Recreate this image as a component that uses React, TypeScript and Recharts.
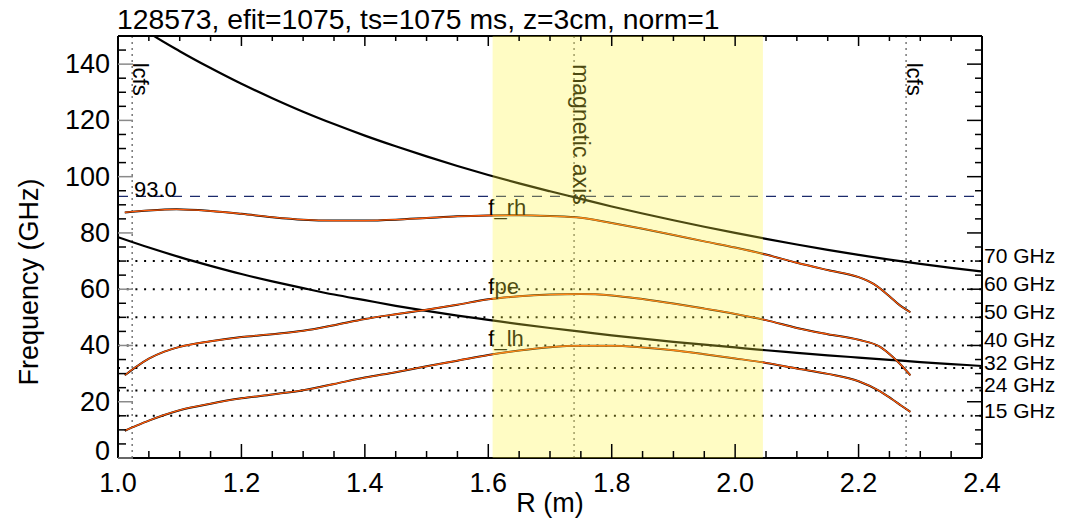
import {
  Line,
  LineChart,
  ReferenceArea,
  ReferenceDot,
  ReferenceLine,
  XAxis,
  YAxis,
} from "recharts";

const FONT = '"Liberation Sans", Arial, Helvetica, sans-serif';

// cyclotron curves on a 0.05 m grid
const R_CYC = [
  1.0, 1.05, 1.1, 1.15, 1.2, 1.25, 1.3, 1.35, 1.4, 1.45, 1.5, 1.55, 1.6, 1.65, 1.7,
  1.75, 1.8, 1.85, 1.9, 1.95, 2.0, 2.05, 2.1, 2.15, 2.2, 2.25, 2.3, 2.35, 2.4,
];
const F_CE = [
  159.5, 151.2, 144.6, 138.6, 133.0, 127.9, 123.1, 118.7, 114.6, 110.8, 107.2, 103.8, 100.6,
  97.6, 94.8, 92.1, 89.4, 86.9, 84.5, 82.2, 80.0, 77.9, 75.9, 74.0, 72.2, 70.5, 69.0, 67.6,
  66.3,
];
const F_CE_HALF = [
  78.5, 74.8, 71.4, 68.3, 65.4, 62.8, 60.4, 58.1, 56.1, 54.1, 52.3, 50.6, 49.1, 47.6, 46.2,
  44.9, 43.6, 42.4, 41.3, 40.3, 39.3, 38.3, 37.4, 36.5, 35.7, 34.9, 34.1, 33.4, 32.7,
];

// right-hand cutoff
const R_RH = [
  1.011, 1.05, 1.095, 1.15, 1.2, 1.25, 1.3, 1.35, 1.4, 1.45, 1.5, 1.55, 1.6, 1.65, 1.7, 1.75,
  1.8, 1.85, 1.9, 1.95, 2.0, 2.05, 2.1, 2.15, 2.2, 2.225, 2.25, 2.265, 2.284,
];
const F_RH = [
  87.3, 88.0, 88.4, 87.8, 86.8, 85.6, 84.7, 84.4, 84.4, 84.7, 85.3, 85.9, 86.2, 86.3, 86.0,
  85.4, 83.5, 81.5, 79.3, 77.0, 74.8, 72.3, 69.4, 66.8, 64.3, 61.8, 57.5, 54.6, 51.8,
];

// plasma frequency
const R_PE = [
  1.011, 1.03, 1.05, 1.075, 1.1, 1.15, 1.2, 1.25, 1.3, 1.35, 1.4, 1.45, 1.5, 1.55, 1.6, 1.65,
  1.7, 1.75, 1.8, 1.85, 1.9, 1.95, 2.0, 2.05, 2.1, 2.15, 2.2, 2.235, 2.255, 2.27, 2.284,
];
const F_PE = [
  29.4, 32.5, 35.3, 37.8, 39.5, 41.5, 43.0, 44.0, 45.2, 47.2, 49.4, 51.1, 52.7, 54.5, 56.4,
  57.5, 58.1, 58.3, 57.8, 56.5, 54.9, 53.1, 51.2, 49.0, 46.2, 44.0, 42.0, 39.5, 36.0, 32.8,
  29.4,
];

// lower hybrid
const R_LH = R_PE;
const F_LH = [
  9.7, 11.5, 13.3, 15.3, 17.0, 19.3, 21.2, 22.6, 24.1, 26.3, 28.6, 30.5, 32.6, 34.6, 36.6,
  38.2, 39.4, 39.9, 39.9, 39.3, 38.3, 36.9, 35.4, 33.8, 31.8, 29.9, 27.3, 23.7, 20.8, 18.5,
  16.4,
];

const PROBE_GHZ = [70, 60, 50, 40, 32, 24, 15];
const CUTOFF_GHZ = 93.0;
const LCFS_R = [1.023, 2.277];
const MAG_AXIS_R = 1.739;
const BAND_R = [1.607, 2.045];

const X_TICKS = [
  1.0, 1.05, 1.1, 1.15, 1.2, 1.25, 1.3, 1.35, 1.4, 1.45, 1.5, 1.55, 1.6, 1.65, 1.7, 1.75, 1.8,
  1.85, 1.9, 1.95, 2.0, 2.05, 2.1, 2.15, 2.2, 2.25, 2.3, 2.35, 2.4,
];
const Y_TICKS = [
  0, 5, 10, 15, 20, 25, 30, 35, 40, 45, 50, 55, 60, 65, 70, 75, 80, 85, 90, 95, 100, 105, 110,
  115, 120, 125, 130, 135, 140, 145, 150,
];

const zip = (rs: number[], fs: number[]) => rs.map((r, i) => ({ r, f: fs[i] }));
const CE_DATA = zip(R_CYC, F_CE);
const CE_HALF_DATA = zip(R_CYC, F_CE_HALF);
const RH_DATA = zip(R_RH, F_RH);
const PE_DATA = zip(R_PE, F_PE);
const LH_DATA = zip(R_LH, F_LH);

const isMajorX = (v: number) => Math.abs(v * 5 - Math.round(v * 5)) < 1e-6;
const isMajorY = (v: number) => v % 20 === 0 && v < 150;

const BottomTick = ({ x, y, payload }: any) => {
  const major = isMajorX(payload.value);
  return (
    <g>
      <line x1={x} x2={x} y1={y} y2={y - (major ? 14 : 7)} stroke="#000" strokeWidth={1.5} />
      {major && (
        <text x={x} y={y + 34} textAnchor="middle" fontSize={27} fontFamily={FONT} fill="#000">
          {payload.value.toFixed(1)}
        </text>
      )}
    </g>
  );
};

const TopTick = ({ x, y, payload }: any) => {
  const major = isMajorX(payload.value);
  return <line x1={x} x2={x} y1={y} y2={y + (major ? 10 : 5)} stroke="#000" strokeWidth={1.5} />;
};

const LeftTick = ({ x, y, payload }: any) => {
  const major = isMajorY(payload.value);
  // the zero label sits a little higher, clear of the 1.0 label
  const dy = payload.value === 0 ? 2 : 9;
  return (
    <g>
      <line
        x1={x}
        x2={x + (major ? 15 : 8)}
        y1={y}
        y2={y}
        stroke={major ? "#8a8a8a" : "#000"}
        strokeWidth={1.5}
      />
      {major && (
        <text x={x - 8} y={y + dy} textAnchor="end" fontSize={27} fontFamily={FONT} fill="#000">
          {payload.value}
        </text>
      )}
    </g>
  );
};

const RightTick = ({ x, y, payload }: any) => {
  const major = isMajorY(payload.value);
  return <line x1={x} x2={x - (major ? 15 : 7)} y1={y} y2={y} stroke="#000" strokeWidth={1.5} />;
};

const textShape =
  (label: string, dx: number, dy: number, size: number, fill = "#000", rotate = false) =>
  (p: any) =>
    rotate ? (
      <text
        transform={`translate(${p.cx + dx},${p.cy + dy}) rotate(90)`}
        fontSize={size}
        fontFamily={FONT}
        fill={fill}
      >
        {label}
      </text>
    ) : (
      <text x={p.cx + dx} y={p.cy + dy} fontSize={size} fontFamily={FONT} fill={fill}>
        {label}
      </text>
    );

export default function App() {
  return (
    <div style={{ position: "absolute", left: 0, top: 0, width: 1075, height: 518, background: "#fff" }}>
      <LineChart
        width={1075}
        height={518}
        margin={{ top: 35, right: 92, bottom: 59, left: 117 }}
      >
        <XAxis
          type="number"
          dataKey="r"
          domain={[1, 2.4]}
          allowDataOverflow
          ticks={X_TICKS}
          interval={0}
          height={1}
          tickSize={0}
          tickMargin={0}
          tickLine={false}
          tick={<BottomTick />}
          axisLine={{ stroke: "#000", strokeWidth: 2 }}
        />
        <XAxis
          xAxisId="top"
          orientation="top"
          type="number"
          dataKey="r"
          domain={[1, 2.4]}
          allowDataOverflow
          ticks={X_TICKS}
          interval={0}
          height={1}
          tickSize={0}
          tickMargin={0}
          tickLine={false}
          tick={<TopTick />}
          axisLine={{ stroke: "#000", strokeWidth: 2 }}
        />
        <YAxis
          type="number"
          domain={[0, 150]}
          allowDataOverflow
          ticks={Y_TICKS}
          interval={0}
          width={1}
          tickSize={0}
          tickMargin={0}
          tickLine={false}
          tick={<LeftTick />}
          axisLine={{ stroke: "#000", strokeWidth: 2 }}
        />
        <YAxis
          yAxisId="right"
          orientation="right"
          type="number"
          domain={[0, 150]}
          allowDataOverflow
          ticks={Y_TICKS}
          interval={0}
          width={1}
          tickSize={0}
          tickMargin={0}
          tickLine={false}
          tick={<RightTick />}
          axisLine={{ stroke: "#000", strokeWidth: 2 }}
        />

        {PROBE_GHZ.map((f) => (
          <ReferenceLine key={f} y={f} stroke="#000" strokeWidth={2} strokeDasharray="2 6.7" />
        ))}
        {PROBE_GHZ.map((f) => (
          <ReferenceDot
            key={`lbl${f}`}
            x={2.4}
            y={f}
            r={0}
            ifOverflow="visible"
            shape={textShape(`${f} GHz`, 2, 2, 21)}
          />
        ))}
        <ReferenceLine y={CUTOFF_GHZ} stroke="#1b2a6b" strokeWidth={1.3} strokeDasharray="10 8" />
        <ReferenceDot
          x={1.026}
          y={CUTOFF_GHZ}
          r={0}
          ifOverflow="visible"
          shape={textShape(CUTOFF_GHZ.toFixed(1), 0, 1, 22)}
        />

        {LCFS_R.map((r) => (
          <ReferenceLine key={r} x={r} stroke="#777" strokeWidth={1.5} strokeDasharray="2 4" />
        ))}
        {LCFS_R.map((r) => (
          <ReferenceDot
            key={`lcfs${r}`}
            x={r}
            y={140.5}
            r={0}
            ifOverflow="visible"
            shape={textShape("lcfs", 1, 0, 22, "#000", true)}
          />
        ))}
        <ReferenceLine x={MAG_AXIS_R} stroke="#777" strokeWidth={1.5} strokeDasharray="2 4" />
        <ReferenceDot
          x={MAG_AXIS_R}
          y={140}
          r={0}
          ifOverflow="visible"
          shape={textShape("magnetic axis", -1, 0, 23, "#000", true)}
        />

        <Line data={CE_DATA} dataKey="f" type="monotone" stroke="#000" strokeWidth={2.2} dot={false} activeDot={false} isAnimationActive={false} />
        <Line data={CE_HALF_DATA} dataKey="f" type="monotone" stroke="#000" strokeWidth={2.2} dot={false} activeDot={false} isAnimationActive={false} />
        {[RH_DATA, PE_DATA, LH_DATA].map((d, i) => (
          <Line key={`k${i}`} data={d} dataKey="f" type="monotone" stroke="#000" strokeWidth={2} dot={false} activeDot={false} isAnimationActive={false} />
        ))}
        {[RH_DATA, PE_DATA, LH_DATA].map((d, i) => (
          <Line key={`o${i}`} data={d} dataKey="f" type="monotone" stroke="#ff5a0a" strokeWidth={1.3} dot={false} activeDot={false} isAnimationActive={false} />
        ))}

        <ReferenceDot x={1.6} y={86.2} r={0} ifOverflow="visible" shape={textShape("f_rh", 0, 0, 22)} />
        <ReferenceDot x={1.6} y={58.4} r={0} ifOverflow="visible" shape={textShape("fpe", 0, 0, 22)} />
        <ReferenceDot x={1.6} y={39.8} r={0} ifOverflow="visible" shape={textShape("f_lh", 0, 0, 22)} />

        <ReferenceArea
          x1={BAND_R[0]}
          x2={BAND_R[1]}
          y1={0}
          y2={150}
          fill="#fff53c"
          fillOpacity={0.3}
          stroke="none"
          ifOverflow="visible"
          {...({ zIndex: 1900 } as any)}
        />
      </LineChart>
      <svg
        width={1075}
        height={518}
        style={{ position: "absolute", left: 0, top: 0, pointerEvents: "none" }}
      >
        <text x={117} y={29} fontSize={28.3} fontFamily={FONT} fill="#000">
          128573, efit=1075, ts=1075 ms, z=3cm, norm=1
        </text>
        <text x={550} y={512} fontSize={27} fontFamily={FONT} textAnchor="middle" fill="#000">
          R (m)
        </text>
        <text
          transform="translate(38,282) rotate(-90)"
          fontSize={27}
          fontFamily={FONT}
          textAnchor="middle"
          fill="#000"
        >
          Frequency (GHz)
        </text>
      </svg>
    </div>
  );
}
